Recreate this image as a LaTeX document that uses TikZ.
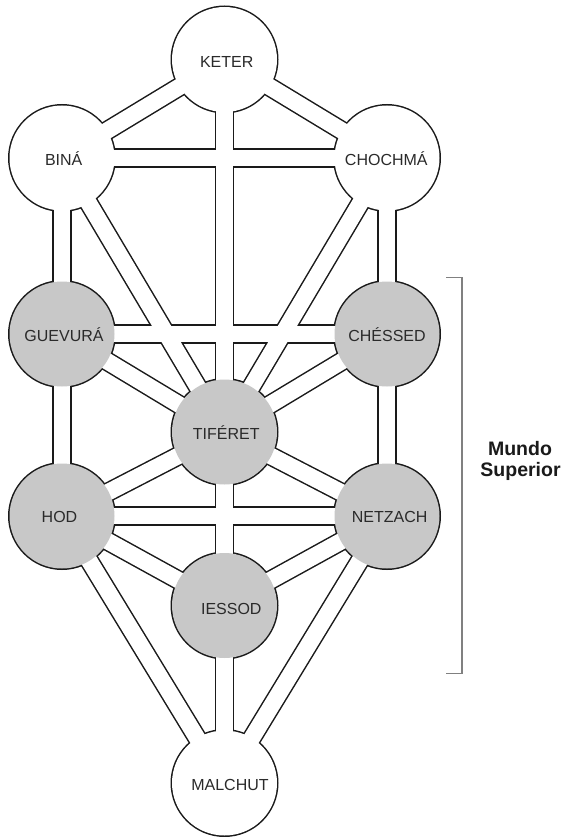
\documentclass[tikz,border=0pt]{standalone}
\usepackage{fontspec}
\setmainfont{Liberation Sans}
\definecolor{sefgray}{HTML}{C8C8C8}
\definecolor{inkline}{HTML}{1A1A1A}
\definecolor{labtext}{HTML}{2A2A2A}
\definecolor{brackgray}{HTML}{808080}
\begin{document}
\begin{tikzpicture}[x=1pt,y=-1pt,
  chanout/.style={draw=inkline,line width=19.5pt},
  chanin/.style={draw=white,line width=16.5pt},
  lab/.style={anchor=base,inner sep=0pt,text=labtext,font=\fontsize{16}{18}\selectfont},
  sidelab/.style={anchor=base,inner sep=0pt,text=inkline,font=\fontsize{19.5}{22}\selectfont\bfseries}]
\useasboundingbox (0,0) rectangle (563,837);
\fill[white] (0,0) rectangle (563,837);
% sefirot centres
\coordinate (ke) at (224.5,59.5);
\coordinate (bi) at (62,158);
\coordinate (ch) at (387,158);
\coordinate (ge) at (62,334);
\coordinate (he) at (387,334);
\coordinate (ti) at (224.5,432);
\coordinate (ho) at (62,516);
\coordinate (ne) at (387,516);
\coordinate (ie) at (224.5,605.5);
\coordinate (ma) at (224.5,783);
\def\paths{ke/bi,ke/ch,ke/ti,bi/ch,bi/ti,ch/ti,bi/ge,ch/he,ge/he,ge/ti,he/ti,ge/ho,he/ne,ti/ho,ti/ne,ti/ie,ho/ne,ho/ie,ne/ie,ho/ma,ne/ma,ie/ma}
% layer 1: channel outlines
\foreach \a/\b in \paths { \draw[chanout] (\a) -- (\b); }
% layer 2: circle outlines
\foreach \c in {ke,bi,ch,ge,he,ti,ho,ne,ie,ma} { \fill[inkline] (\c) circle (54); }
% layer 3: channel interiors
\foreach \a/\b in \paths { \draw[chanin] (\a) -- (\b); }
% layer 4: circle interiors
\foreach \c/\f in {ke/white,bi/white,ch/white,ge/sefgray,he/sefgray,ti/sefgray,ho/sefgray,ne/sefgray,ie/sefgray,ma/white} { \fill[\f] (\c) circle (52.5); }
% labels
\node[lab] (lke) at (226.7,67.7) {KETER};
\node[lab] (lbi) at (63.7,165) {BINÁ};
\node[lab] (lch) at (386.3,165) {CHOCHMÁ};
\node[lab] (lge) at (64,341.7) {GUEVURÁ};
\node[lab] (lhe) at (387,341.7) {CHÉSSED};
\node[lab] (lti) at (226.3,439.3) {TIFÉRET};
\node[lab] (lho) at (59.5,522) {HOD};
\node[lab] (lne) at (389.6,522) {NETZACH};
\node[lab] (lie) at (231.3,614) {IESSOD};
\node[lab] (lma) at (230,790) {MALCHUT};
% bracket
\coordinate (bt) at (446,277.5);
\coordinate (bb) at (446,673.5);
\draw[brackgray,line width=1.2pt] (bt) -- ++(16,0) |- (bb);
\node[sidelab] (mundo) at (520,455) {Mundo};
\node[sidelab] (superior) at (520.5,476) {Superior};
\end{tikzpicture}
\end{document}
